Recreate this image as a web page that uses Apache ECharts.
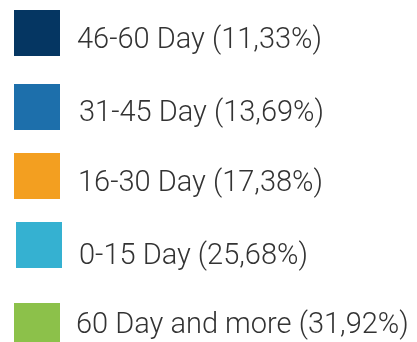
<!DOCTYPE html>
<html>
<head>
<meta charset="utf-8">
<script src="https://cdn.jsdelivr.net/npm/echarts@6/dist/echarts.min.js"></script>
<style>
  html, body { margin: 0; padding: 0; background: #ffffff; }
  #chart { width: 417px; height: 342px; }
</style>
</head>
<body>
<div id="chart"></div>
<script>
// Ageing buckets and their share of the total
const categories = ['46-60 Day', '31-45 Day', '16-30 Day', '0-15 Day', '60 Day and more'];
const shares = [11.33, 13.69, 17.38, 25.68, 31.92];
const colors = ['#053662', '#1d6fab', '#f39f20', '#35b1d1', '#8cc14a'];

// Legend row placement (icon top-left corner, text nudges)
const rowLeft = [14, 14, 14, 16, 14];
const rowTop = [10, 84, 153, 222, 303];
const textPadLeft = [12, 14, 13, 12, 11];
const textDrop = [16, 14, 16, 24, 0];

function fmtShare(v) {
  return v.toFixed(2).replace('.', ',') + '%';
}

const shareByName = {};
categories.forEach((c, i) => { shareByName[c] = shares[i]; });

const chart = echarts.init(document.getElementById('chart'), null, { renderer: 'canvas' });

const legends = categories.map((name, i) => ({
  data: [name],
  left: rowLeft[i],
  top: rowTop[i],
  orient: 'vertical',
  padding: 0,
  itemWidth: 46,
  itemHeight: 46,
  itemGap: 0,
  icon: 'rect',
  selectedMode: false,
  formatter: n => '{t|' + n + ' (' + fmtShare(shareByName[n]) + ')}',
  textStyle: {
    fontFamily: 'Roboto',
    fontWeight: 300,
    fontSize: 29,
    color: '#333333',
    rich: {
      t: {
        fontFamily: 'Roboto',
        fontWeight: 300,
        fontSize: 29,
        color: '#333333',
        padding: [textDrop[i], 0, 0, textPadLeft[i]]
      }
    }
  }
}));

chart.setOption({
  animation: false,
  color: colors,
  legend: legends,
  series: [{
    type: 'pie',
    silent: true,
    center: [-600, -600],
    radius: 20,
    label: { show: false },
    labelLine: { show: false },
    data: categories.map((c, i) => ({ name: c, value: shares[i] }))
  }]
});
</script>
</body>
</html>
